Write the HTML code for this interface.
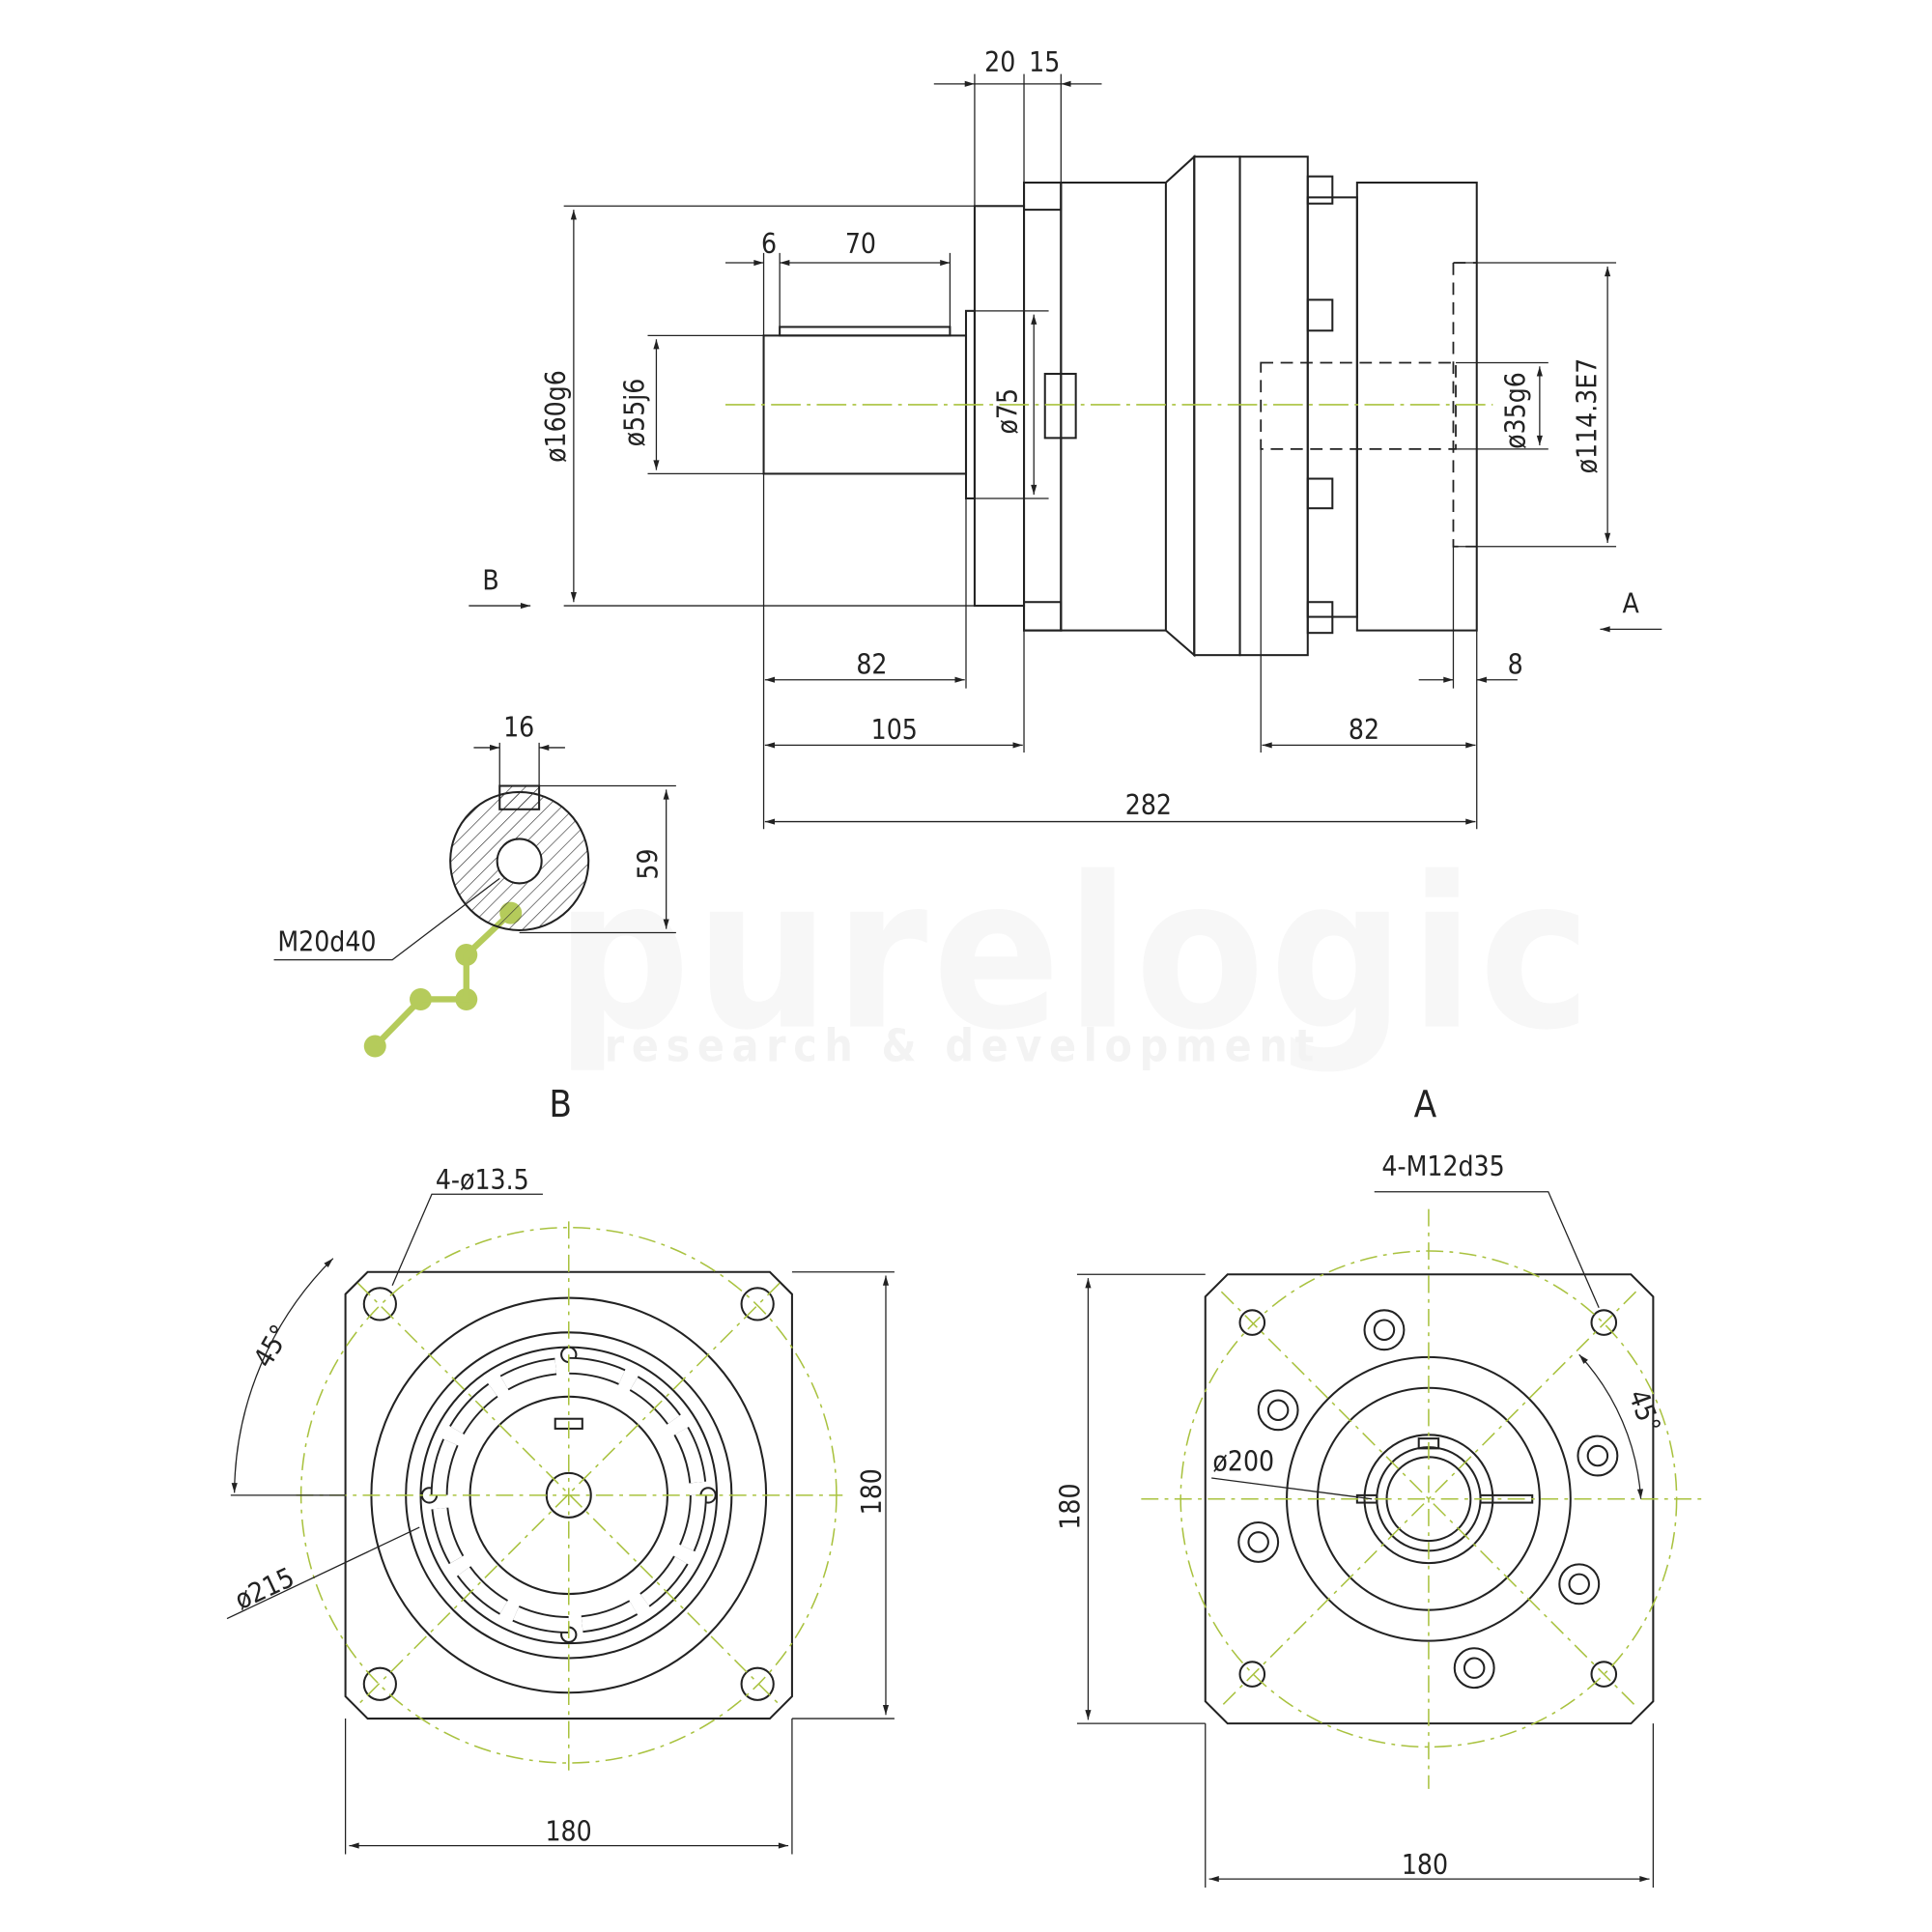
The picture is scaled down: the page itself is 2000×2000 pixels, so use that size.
<!DOCTYPE html>
<html><head><meta charset="utf-8"><style>
html,body{margin:0;padding:0;background:#fff}
svg{display:block}
text{font-family:"DejaVu Sans Condensed","Liberation Sans",sans-serif;fill:#222;font-size:22px}
</style></head><body>
<svg width="2000" height="2000" viewBox="0 0 1566 1566" xmlns="http://www.w3.org/2000/svg">
<defs>
<marker id="ar" viewBox="0 0 10 10" refX="10" refY="5" markerWidth="14" markerHeight="8" orient="auto-start-reverse" markerUnits="userSpaceOnUse"><path d="M0,2 L10,5 L0,8 z" fill="#222"/></marker>
<pattern id="hatch" width="8" height="8" patternUnits="userSpaceOnUse" patternTransform="rotate(45)"><line x1="0" y1="0" x2="0" y2="8" stroke="#333" stroke-width="1"/></pattern>
</defs>
<g>
<text x="450" y="832" style="font-size:170px;font-weight:bold;fill:#f7f7f7;letter-spacing:4px">purelogic</text>
<text x="490" y="860" style="font-size:36px;font-weight:bold;fill:#f3f3f3;letter-spacing:6px">research &amp; development</text>
</g>
<g fill="#a9c23f" opacity="0.85"><circle cx="304" cy="848" r="9"/><circle cx="341" cy="810" r="9"/><circle cx="378" cy="810" r="9"/><circle cx="378" cy="774" r="9"/><circle cx="414" cy="740" r="9"/>
<path d="M304,848 L341,810 H378 V774 L414,740" stroke="#a9c23f" stroke-width="5" fill="none"/></g>
<g fill="none" stroke="#222" stroke-width="1.6">
<rect x="619" y="272" width="164" height="112"/>
<rect x="632" y="265" width="138" height="7"/>
<rect x="783" y="252" width="7" height="152"/>
<rect x="790" y="167" width="40" height="324"/>
<rect x="830" y="148" width="30" height="363"/>
<rect x="830" y="148" width="30" height="22"/><rect x="830" y="488" width="30" height="23"/>
<rect x="860" y="148" width="85" height="363"/>
<path d="M945,148 L968,127 L968,531 L945,511"/>
<rect x="968" y="127" width="37" height="404"/>
<rect x="1005" y="127" width="55" height="404"/>
<rect x="1060" y="160" width="40" height="340"/>
<rect x="1060" y="143" width="20" height="22"/><rect x="1060" y="243" width="20" height="25"/>
<rect x="1060" y="388" width="20" height="24"/><rect x="1060" y="488" width="20" height="25"/>
<rect x="1100" y="148" width="97" height="363"/>
<rect x="847" y="303" width="25" height="52"/>
<g stroke-dasharray="10,6" stroke-width="1.4"><rect x="1022" y="294" width="158" height="70"/><path d="M1178,213 H1197 M1178,213 V443 H1197"/></g>
</g>
<g stroke="#222" stroke-width="1" fill="none">
<path d="M790,60 V167 M830,60 V148 M860,60 V148"/>
<line x1="757" y1="68" x2="790" y2="68" marker-end="url(#ar)"/>
<line x1="790" y1="68" x2="860" y2="68"/>
<line x1="893" y1="68" x2="860" y2="68" marker-end="url(#ar)"/>
<path d="M457,167 H790 M457,491 H790"/>
<line x1="465" y1="170" x2="465" y2="488" marker-start="url(#ar)" marker-end="url(#ar)"/>
<path d="M525,272 H619 M525,384 H619"/>
<line x1="532" y1="275" x2="532" y2="381" marker-start="url(#ar)" marker-end="url(#ar)"/>
<path d="M619,205 V272 M632,205 V265 M770,205 V265"/>
<line x1="588" y1="213" x2="619" y2="213" marker-end="url(#ar)"/>
<line x1="632" y1="213" x2="770" y2="213" marker-start="url(#ar)" marker-end="url(#ar)"/>
<path d="M790,252 H850 M790,404 H850"/>
<line x1="838" y1="255" x2="838" y2="401" marker-start="url(#ar)" marker-end="url(#ar)"/>
<path d="M619,384 V672 M783,404 V558 M830,511 V610 M1022,364 V610 M1197,511 V672 M1178,443 V558"/>
<line x1="620" y1="551" x2="782" y2="551" marker-start="url(#ar)" marker-end="url(#ar)"/>
<line x1="620" y1="604" x2="829" y2="604" marker-start="url(#ar)" marker-end="url(#ar)"/>
<line x1="1023" y1="604" x2="1196" y2="604" marker-start="url(#ar)" marker-end="url(#ar)"/>
<line x1="620" y1="666" x2="1196" y2="666" marker-start="url(#ar)" marker-end="url(#ar)"/>
<line x1="1150" y1="551" x2="1178" y2="551" marker-end="url(#ar)"/>
<line x1="1230" y1="551" x2="1197" y2="551" marker-end="url(#ar)"/>
<path d="M1180,294 H1255 M1180,364 H1255 M1180,213 H1310 M1180,443 H1310"/>
<line x1="1248" y1="297" x2="1248" y2="361" marker-start="url(#ar)" marker-end="url(#ar)"/>
<line x1="1303" y1="216" x2="1303" y2="440" marker-start="url(#ar)" marker-end="url(#ar)"/>
<line x1="380" y1="491" x2="430" y2="491" marker-end="url(#ar)"/>
<line x1="1347" y1="510" x2="1297" y2="510" marker-end="url(#ar)"/>
</g>
<line x1="588" y1="328" x2="1210" y2="328" stroke="#a9c23f" stroke-width="1.3" stroke-dasharray="24,5,3,5"/>
<g>
<text x="798" y="58">20</text><text x="834" y="58">15</text>
<text x="685" y="205">70</text><text x="617" y="205">6</text>
<text x="694" y="546">82</text><text x="706" y="599">105</text><text x="1093" y="599">82</text>
<text x="912" y="660">282</text><text x="1222" y="546">8</text>
<text x="391" y="478">B</text><text x="1315" y="497">A</text>
<text transform="translate(458,375) rotate(-90)">ø160g6</text>
<text transform="translate(522,362) rotate(-90)">ø55j6</text>
<text transform="translate(824,352) rotate(-90)">ø75</text>
<text transform="translate(1236,364) rotate(-90)">ø35g6</text>
<text transform="translate(1294,384) rotate(-90)">ø114.3E7</text>
</g>
<g stroke="#222" fill="none" stroke-width="1.6">
<circle cx="421" cy="698" r="56" fill="url(#hatch)"/>
<circle cx="421" cy="698" r="18" fill="#fff"/>
<rect x="405" y="637" width="32" height="19" fill="url(#hatch)"/>
</g>
<g stroke="#222" stroke-width="1" fill="none">
<path d="M405,602 V637 M437,602 V637"/>
<line x1="384" y1="606" x2="405" y2="606" marker-end="url(#ar)"/><line x1="458" y1="606" x2="437" y2="606" marker-end="url(#ar)"/>
<path d="M437,637 H548 M421,756 H548"/>
<line x1="540" y1="640" x2="540" y2="753" marker-start="url(#ar)" marker-end="url(#ar)"/>
<path d="M222,778 H318 L405,712"/>
</g>
<text x="408" y="597">16</text><text transform="translate(533,713) rotate(-90)">59</text><text x="225" y="771">M20d40</text>
<text x="445" y="905" style="font-size:30px">B</text><text x="1146" y="905" style="font-size:30px">A</text>
<g stroke="#222" fill="none" stroke-width="1.6">
<path d="M298,1031 H624 L642,1049 V1375 L624,1393 H298 L280,1375 V1049 Z"/>
<circle cx="461" cy="1212" r="160"/><circle cx="461" cy="1212" r="132"/><circle cx="461" cy="1212" r="120"/>
<circle cx="461" cy="1212" r="80"/><circle cx="461" cy="1212" r="18"/>
<circle cx="308" cy="1057" r="13"/><circle cx="614" cy="1057" r="13"/><circle cx="308" cy="1365" r="13"/><circle cx="614" cy="1365" r="13"/>
<circle cx="461" cy="1098" r="6"/><circle cx="461" cy="1325" r="6"/><circle cx="348" cy="1212" r="6"/><circle cx="574" cy="1212" r="6"/>
<circle cx="461" cy="1212" r="105" stroke-dasharray="44,11" stroke-width="14"/>
<circle cx="461" cy="1212" r="105" stroke-dasharray="44,11" stroke-width="11" stroke="#fff"/>
<rect x="450" y="1150" width="22" height="8"/>
</g>
<g stroke="#a9c23f" stroke-width="1.2" fill="none" stroke-dasharray="14,5,3,5">
<circle cx="461" cy="1212" r="217"/>
<line x1="461" y1="990" x2="461" y2="1435"/><line x1="240" y1="1212" x2="683" y2="1212"/>
<line x1="290" y1="1040" x2="632" y2="1382"/><line x1="632" y1="1040" x2="290" y2="1382"/>
</g>
<g stroke="#222" stroke-width="1" fill="none">
<path d="M642,1031 H725 M642,1393 H725 M280,1393 V1503 M642,1393 V1503 M187,1212 H280"/>
<line x1="718" y1="1034" x2="718" y2="1390" marker-start="url(#ar)" marker-end="url(#ar)"/>
<line x1="283" y1="1496" x2="639" y2="1496" marker-start="url(#ar)" marker-end="url(#ar)"/>
<path d="M440,968 H350 L318,1042"/>
<path d="M270,1020 A270,270 0 0,0 190,1210" marker-start="url(#ar)" marker-end="url(#ar)"/>
<path d="M184,1312 L340,1238"/>
</g>
<text x="353" y="964">4-ø13.5</text><text x="442" y="1492">180</text>
<text transform="translate(714,1228) rotate(-90)">180</text>
<text transform="translate(218,1110) rotate(-60)">45°</text>
<text transform="translate(195,1305) rotate(-25)">ø215</text>
<g stroke="#222" fill="none" stroke-width="1.6">
<path d="M995,1033 H1322 L1340,1051 V1379 L1322,1397 H995 L977,1379 V1051 Z"/>
<circle cx="1158" cy="1215" r="115"/><circle cx="1158" cy="1215" r="90"/>
<circle cx="1158" cy="1215" r="52"/><circle cx="1158" cy="1215" r="42"/><circle cx="1158" cy="1215" r="34"/>
<circle cx="1015" cy="1072" r="10"/><circle cx="1300" cy="1072" r="10"/><circle cx="1015" cy="1357" r="10"/><circle cx="1300" cy="1357" r="10"/>
<g><circle cx="1122" cy="1078" r="16"/><circle cx="1122" cy="1078" r="8"/>
<circle cx="1036" cy="1143" r="16"/><circle cx="1036" cy="1143" r="8"/>
<circle cx="1020" cy="1250" r="16"/><circle cx="1020" cy="1250" r="8"/>
<circle cx="1195" cy="1352" r="16"/><circle cx="1195" cy="1352" r="8"/>
<circle cx="1280" cy="1284" r="16"/><circle cx="1280" cy="1284" r="8"/>
<circle cx="1295" cy="1180" r="16"/><circle cx="1295" cy="1180" r="8"/></g>
<rect x="1150" y="1166" width="16" height="8"/><rect x="1200" y="1212" width="42" height="6"/><rect x="1100" y="1212" width="16" height="6"/>
</g>
<g stroke="#a9c23f" stroke-width="1.2" fill="none" stroke-dasharray="14,5,3,5">
<circle cx="1158" cy="1215" r="201"/>
<line x1="1158" y1="980" x2="1158" y2="1450"/><line x1="925" y1="1215" x2="1380" y2="1215"/>
<line x1="990" y1="1047" x2="1326" y2="1383"/><line x1="1326" y1="1047" x2="990" y2="1383"/>
</g>
<g stroke="#222" stroke-width="1" fill="none">
<path d="M977,1033 H873 M977,1397 H873 M977,1397 V1530 M1340,1397 V1530"/>
<line x1="882" y1="1036" x2="882" y2="1394" marker-start="url(#ar)" marker-end="url(#ar)"/>
<line x1="980" y1="1523" x2="1337" y2="1523" marker-start="url(#ar)" marker-end="url(#ar)"/>
<path d="M1114,966 H1255 L1296,1060"/>
<path d="M1280,1098 A190,190 0 0,1 1330,1215" marker-start="url(#ar)" marker-end="url(#ar)"/>
<path d="M982,1198 L1112,1215"/>
</g>
<text x="1120" y="953">4-M12d35</text><text x="1136" y="1519">180</text>
<text transform="translate(875,1240) rotate(-90)">180</text>
<text x="983" y="1192">ø200</text>
<text transform="translate(1320,1130) rotate(70)">45°</text>
</svg>
</body></html>
